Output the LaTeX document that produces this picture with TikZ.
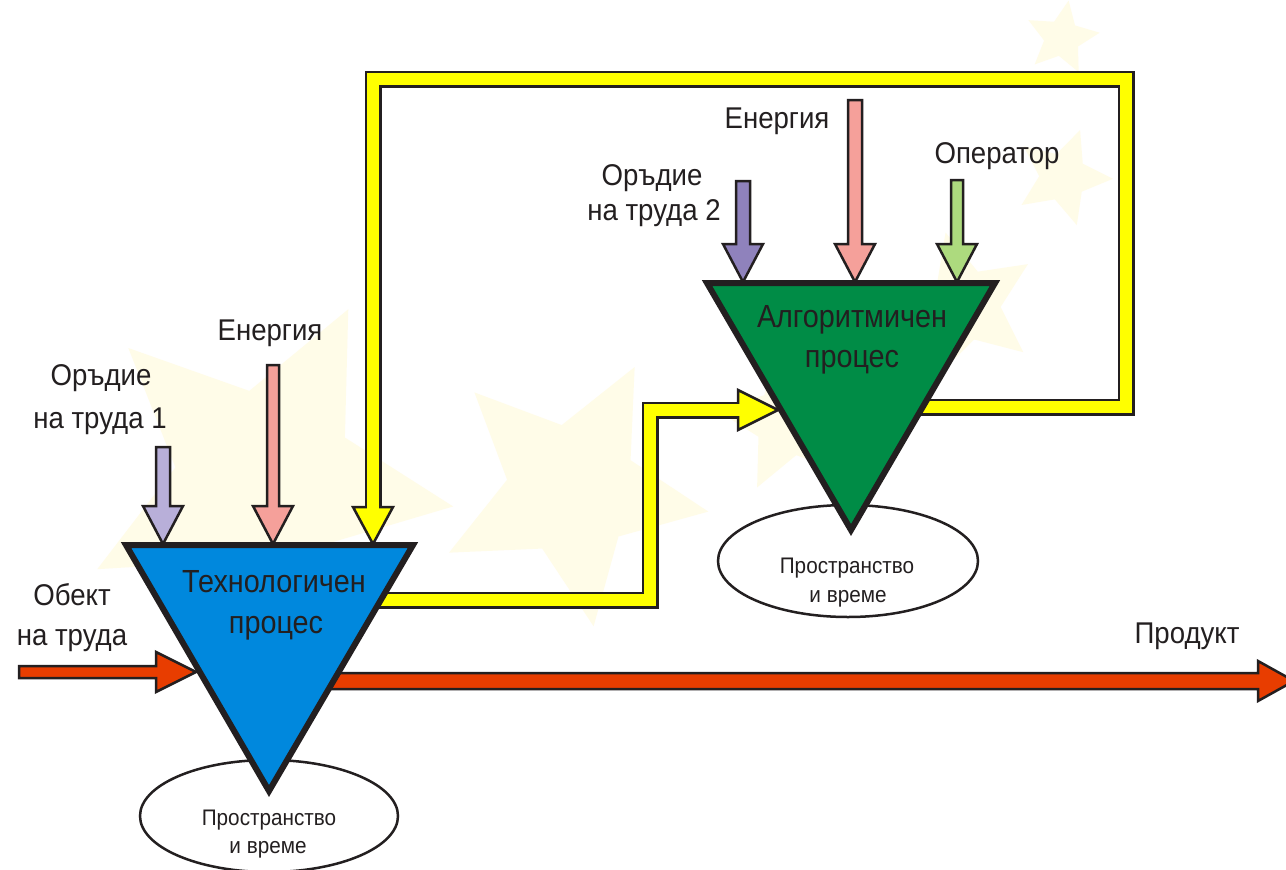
\documentclass[tikz,border=0pt]{standalone}
\usepackage{fontspec}
\setmainfont{Liberation Sans}
\newfontfamily\lblfont[FakeStretch=0.92]{Liberation Sans}
\newfontfamily\procfont[FakeStretch=0.9]{Liberation Sans}
\newfontfamily\smallfont[FakeStretch=0.92]{Liberation Sans}
\usetikzlibrary{calc,shapes.geometric}

\definecolor{txt}{RGB}{35,31,32}
\definecolor{outl}{RGB}{35,31,32}
\definecolor{tblue}{RGB}{0,136,221}
\definecolor{tgreen}{RGB}{0,140,70}
\definecolor{byellow}{RGB}{255,255,0}
\definecolor{bred}{RGB}{232,61,0}
\definecolor{lav}{RGB}{184,175,217}
\definecolor{purp}{RGB}{143,130,188}
\definecolor{pinkc}{RGB}{245,160,154}
\definecolor{lgreen}{RGB}{173,218,126}
\definecolor{starc}{RGB}{255,252,232}

\tikzset{
  blockline/.style={draw=outl, line width=2.5pt, line join=miter},
  bandout/.style={draw=outl, line width=17pt, line join=miter},
  bandin/.style={draw=byellow, line width=12pt, line join=miter},
  procshape/.style={draw=outl, line width=6pt, line join=miter},
  lbl/.style={font=\lblfont\fontsize{30}{36}\selectfont, text=txt, anchor=base, inner sep=0pt},
  proclbl/.style={font=\procfont\fontsize{32}{38}\selectfont, text=txt, anchor=base, inner sep=0pt},
  smalllbl/.style={font=\smallfont\fontsize{22.5}{27}\selectfont, text=txt, anchor=base, inner sep=0pt},
  bgstar/.style={star, star points=5, star point ratio=2.1, fill=starc, draw=none, inner sep=0pt},
  placeell/.style={draw=outl, line width=2.5pt, fill=white}
}

% block arrow from #1 to #2: shaft half width #3, head half width #4, head length #5, fill #6
\newcommand\blockarrow[6]{%
  \coordinate (bahead) at ($(#2)!#5!(#1)$);
  \filldraw[blockline, fill=#6]
    ($(#1)!#3!90:(#2)$) -- ($(bahead)!#3!90:(#2)$) -- ($(bahead)!#4!90:(#2)$) --
    (#2) -- ($(bahead)!#4!-90:(#2)$) -- ($(bahead)!#3!-90:(#2)$) --
    ($(#1)!#3!-90:(#2)$) -- cycle;
}

\begin{document}
\begin{tikzpicture}[x=1pt,y=-1pt]
\useasboundingbox (0,0) rectangle (1286,870);
\fill[white] (0,0) rectangle (1286,870);

% background stars
\node[bgstar, minimum size=380pt, rotate=-26] (starB) at (265,480) {};
\node[bgstar, minimum size=276pt, rotate=45] (starA) at (572,490) {};
\node[bgstar, minimum size=150pt, rotate=10] (starF) at (790,420) {};
\node[bgstar, minimum size=150pt, rotate=15] (starE) at (965,305) {};
\node[bgstar, minimum size=100pt, rotate=-20] (starD) at (1063,177) {};
\node[bgstar, minimum size=76pt, rotate=-10] (starC) at (1062,38) {};

% triangle vertices
\coordinate (tri1-l) at (126,545);
\coordinate (tri1-r) at (413,545);
\coordinate (tri1-b) at (269,791);
\coordinate (tri2-l) at (707,283);
\coordinate (tri2-r) at (995,283);
\coordinate (tri2-b) at (851,530);

% space-time ellipses
\node[placeell, ellipse, minimum width=258pt, minimum height=112pt, inner sep=0pt] (ell1) at (269,816) {};
\node[placeell, ellipse, minimum width=260pt, minimum height=112pt, inner sep=0pt] (ell2) at (848,561) {};

% yellow connector: technological -> algorithmic
\coordinate (ya0) at (360,600);
\coordinate (ya1) at (650,600);
\coordinate (ya2) at (650,410);
\coordinate (yah) at (738,410);
\coordinate (yat) at (778,410);
\draw[bandout] (ya0) -- (ya1) -- (ya2) -- ($(yah)+(1,0)$);
\filldraw[blockline, fill=byellow] ($(yah)!20pt!90:(yat)$) -- (yat) -- ($(yah)!20pt!-90:(yat)$) -- cycle;
\draw[bandin] (ya0) -- (ya1) -- (ya2) -- ($(yah)+(3,0)$);

% yellow feedback loop: algorithmic -> technological
\coordinate (yb0) at (900,407);
\coordinate (yb1) at (1126,407);
\coordinate (yb2) at (1126,79);
\coordinate (yb3) at (373,79);
\coordinate (ybh) at (373,507);
\coordinate (ybt) at (373,544);
\draw[bandout] (yb0) -- (yb1) -- (yb2) -- (yb3) -- ($(ybh)+(0,1)$);
\draw[bandin] (yb0) -- (yb1) -- (yb2) -- (yb3) -- (ybh);

% red object / product flow
\coordinate (in0) at (19,672);
\coordinate (int) at (196,672);
\blockarrow{in0}{int}{6pt}{20pt}{40pt}{bred}
\coordinate (out0) at (330,681);
\coordinate (outt) at (1294,681);
\blockarrow{out0}{outt}{8pt}{20pt}{36pt}{bred}

% process triangles
\filldraw[procshape, fill=tblue] (tri1-l) -- (tri1-r) -- (tri1-b) -- cycle;
\filldraw[procshape, fill=tgreen] (tri2-l) -- (tri2-r) -- (tri2-b) -- cycle;

% head of the feedback loop
\filldraw[blockline, fill=byellow] ($(ybh)!20pt!90:(ybt)$) -- (ybt) -- ($(ybh)!20pt!-90:(ybt)$) -- cycle;
\draw[bandin] ($(ybh)+(0,-4)$) -- ($(ybh)+(0,3)$);

% input arrows into the technological process
\coordinate (a1s) at (163,447);  \coordinate (a1t) at (163,544);
\coordinate (a2s) at (273,365);  \coordinate (a2t) at (273,544);
\blockarrow{a1s}{a1t}{7pt}{20pt}{38pt}{lav}
\blockarrow{a2s}{a2t}{6pt}{20pt}{38pt}{pinkc}

% input arrows into the algorithmic process
\coordinate (b1s) at (743,181);  \coordinate (b1t) at (743,282);
\coordinate (b2s) at (855,100);  \coordinate (b2t) at (855,282);
\coordinate (b3s) at (957,180);  \coordinate (b3t) at (957,282);
\blockarrow{b1s}{b1t}{7pt}{20pt}{38pt}{purp}
\blockarrow{b2s}{b2t}{7pt}{20pt}{38pt}{pinkc}
\blockarrow{b3s}{b3t}{6pt}{20pt}{38pt}{lgreen}

% labels
\node[lbl] (tool1a) at (101,385) {Оръдие};
\node[lbl] (tool1b) at (100,428) {на труда 1};
\node[lbl] (en1) at (270,340) {Енергия};
\node[lbl] (obj1a) at (72,605) {Обект};
\node[lbl] (obj1b) at (72,645) {на труда};
\node[proclbl] (tp1a) at (274,592) {Технологичен};
\node[proclbl] (tp1b) at (276,633) {процес};
\node[smalllbl] (sp1a) at (269,825) {Пространство};
\node[smalllbl] (sp1b) at (268,853) {и време};

\node[lbl] (en2) at (777,128) {Енергия};
\node[lbl] (oper) at (997,163) {Оператор};
\node[lbl] (tool2a) at (652,185) {Оръдие};
\node[lbl] (tool2b) at (654,220) {на труда 2};
\node[proclbl] (ap2a) at (852,327) {Алгоритмичен};
\node[proclbl] (ap2b) at (852,367) {процес};
\node[smalllbl] (sp2a) at (847,573) {Пространство};
\node[smalllbl] (sp2b) at (848,602) {и време};

\node[lbl] (prod) at (1187,643) {Продукт};
\end{tikzpicture}
\end{document}
